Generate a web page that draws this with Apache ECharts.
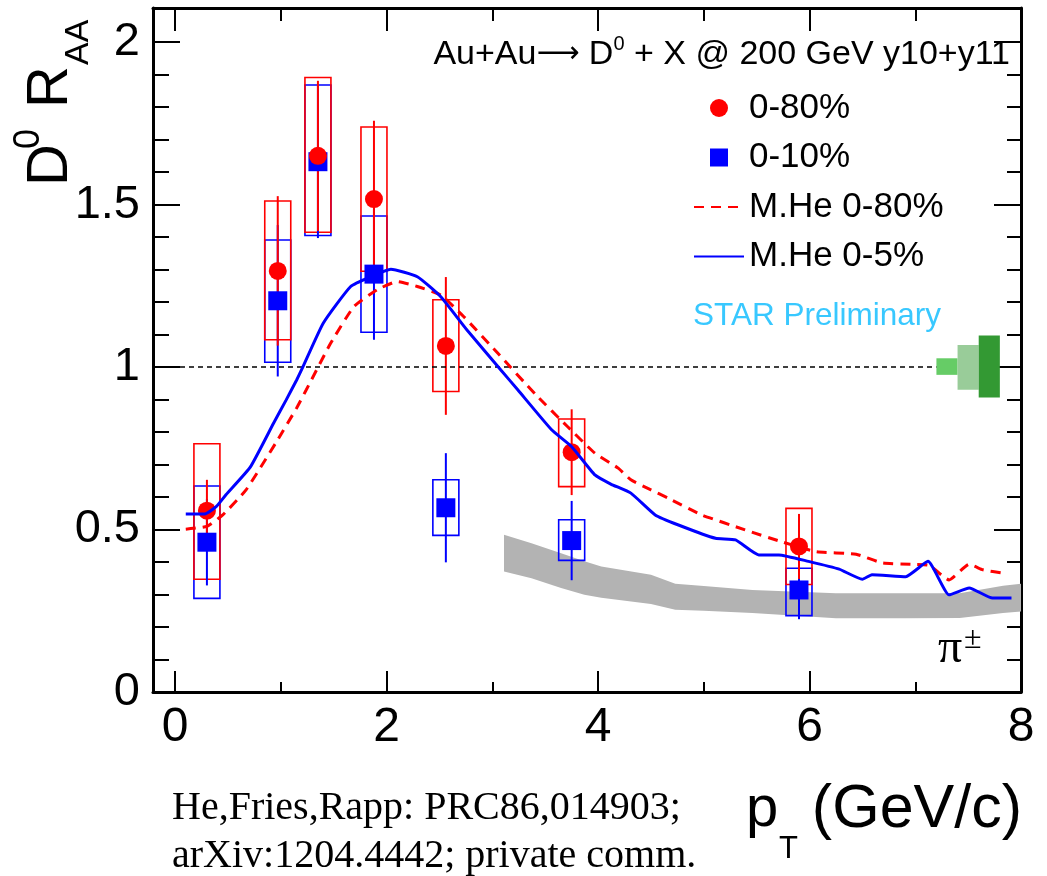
<!DOCTYPE html>
<html lang="en" style="height: 100%">
<head>
    <meta charset="utf-8">
    <script src="https://cdn.jsdelivr.net/npm/echarts@6/dist/echarts.min.js"></script>
</head>
<body style="height: 100%; margin: 0; background: #fff">
<div id="main" style="width: 1047px; height: 876px"></div>
<script type="text/javascript">
    // D0 RAA points, pT in GeV/c
    var pT = [0.30, 0.97, 1.35, 1.88, 2.56, 3.75, 5.90];

    // 0-80% (red circles)
    var raa080 = [0.558, 1.296, 1.650, 1.517, 1.065, 0.738, 0.448];
    var stat080 = [0.095, 0.230, 0.231, 0.241, 0.212, 0.132, 0.100];
    var sysLo080 = [0.347, 1.084, 1.415, 1.295, 0.925, 0.632, 0.331];
    var sysHi080 = [0.764, 1.511, 1.891, 1.739, 1.207, 0.840, 0.565];

    // 0-10% (blue squares)
    var raa010 = [0.461, 1.204, 1.632, 1.286, 0.567, 0.466, 0.314];
    var stat010 = [0.133, 0.233, 0.235, 0.202, 0.168, 0.122, 0.090];
    var sysLo010 = [0.288, 1.015, 1.405, 1.107, 0.482, 0.405, 0.235];
    var sysHi010 = [0.634, 1.391, 1.868, 1.465, 0.653, 0.530, 0.381];

    // M.He model curves
    var heX05 = [0.10, 0.28, 0.39, 0.48, 0.71, 0.93, 1.05, 1.15, 1.21, 1.40, 1.66, 1.85, 2.04, 2.29, 2.51, 2.76, 3.08, 3.24, 3.56, 3.75, 3.97, 4.12, 4.31, 4.54, 4.76, 5.11, 5.30, 5.52, 5.71, 5.99, 6.28, 6.50, 6.59, 6.91, 7.12, 7.32, 7.51, 7.73, 7.91];
    var heY05 = [0.548, 0.548, 0.571, 0.607, 0.692, 0.827, 0.899, 0.961, 1.002, 1.135, 1.248, 1.278, 1.301, 1.278, 1.217, 1.114, 0.991, 0.930, 0.807, 0.755, 0.668, 0.640, 0.612, 0.545, 0.514, 0.473, 0.468, 0.422, 0.422, 0.402, 0.378, 0.347, 0.361, 0.355, 0.402, 0.299, 0.320, 0.289, 0.289];
    var heX080 = [0.10, 0.30, 0.45, 0.67, 0.96, 1.15, 1.24, 1.47, 1.69, 1.91, 2.10, 2.29, 2.51, 2.73, 3.05, 3.41, 3.71, 3.97, 4.19, 4.31, 4.50, 4.66, 4.98, 5.39, 5.71, 6.06, 6.44, 6.69, 6.97, 7.13, 7.32, 7.51, 7.64, 7.83];
    var heY080 = [0.501, 0.510, 0.545, 0.622, 0.771, 0.875, 0.930, 1.073, 1.186, 1.238, 1.263, 1.248, 1.222, 1.155, 1.043, 0.915, 0.817, 0.735, 0.689, 0.653, 0.622, 0.597, 0.545, 0.499, 0.465, 0.432, 0.424, 0.397, 0.393, 0.390, 0.345, 0.393, 0.376, 0.366];

    // pi+- RAA band
    var piX = [3.11, 3.37, 3.65, 3.87, 4.03, 4.50, 4.73, 5.00, 5.46, 6.25, 6.90, 7.42, 7.83, 8.00];
    var piHi = [0.484, 0.458, 0.427, 0.402, 0.386, 0.361, 0.333, 0.326, 0.314, 0.304, 0.304, 0.304, 0.327, 0.333];
    var piLo = [0.371, 0.350, 0.320, 0.299, 0.290, 0.271, 0.253, 0.250, 0.243, 0.227, 0.227, 0.228, 0.243, 0.248];

    // normalisation boxes at unity
    var normX0 = [7.20, 7.40, 7.60];
    var normX1 = [7.40, 7.60, 7.80];
    var normLo = [0.976, 0.930, 0.906];
    var normHi = [1.027, 1.068, 1.097];
    var normColors = ['#66cc66', '#99cc99', '#339933'];

    var unityX = [-0.21, 7.20];

    var xMajor = [0, 2, 4, 6, 8];
    var xMinor = [1, 3, 5, 7];
    var yMajor = [0, 0.5, 1, 1.5, 2];
    var yMinor = [0.1, 0.2, 0.3, 0.4, 0.6, 0.7, 0.8, 0.9, 1.1, 1.2, 1.3, 1.4, 1.6, 1.7, 1.8, 1.9, 2.0];

    var SANS = 'Liberation Sans, Arial, sans-serif';
    var SERIF = 'Liberation Serif, Times New Roman, serif';

    function pairs(xs, ys) {
        return xs.map(function (x, i) { return [x, ys[i]]; });
    }
    function ranges(xs, lo, hi) {
        return xs.map(function (x, i) { return [x, lo[i], hi[i]]; });
    }

    // systematic box
    function boxItem(color) {
        return function (params, api) {
            var top = api.coord([api.value(0), api.value(2)]);
            var bot = api.coord([api.value(0), api.value(1)]);
            return {
                type: 'rect',
                shape: {x: top[0] - 13, y: top[1], width: 26, height: bot[1] - top[1]},
                style: {fill: 'none', stroke: color, lineWidth: 1.6}
            };
        };
    }
    // stat error bar
    function barItem(color) {
        return function (params, api) {
            var top = api.coord([api.value(0), api.value(2)]);
            var bot = api.coord([api.value(0), api.value(1)]);
            return {
                type: 'line',
                shape: {x1: top[0], y1: top[1], x2: bot[0], y2: bot[1]},
                style: {stroke: color, lineWidth: 2}
            };
        };
    }

    function xAxisOf(grid, pos, values, len, withLine, withLabel) {
        return {
            type: 'value', gridIndex: grid, position: pos, min: -0.21, max: 8,
            axisLine: {show: withLine, onZero: false, lineStyle: {color: '#000', width: 3}},
            axisTick: {show: true, inside: true, length: len, customValues: values, lineStyle: {color: '#000', width: 2}},
            axisLabel: {show: withLabel, customValues: values, margin: 12, fontSize: 48, fontFamily: SANS, color: '#000'},
            splitLine: {show: false}
        };
    }
    function yAxisOf(grid, pos, values, len, withLine, withLabel) {
        return {
            type: 'value', gridIndex: grid, position: pos, min: 0, max: 2.105,
            axisLine: {show: withLine, onZero: false, lineStyle: {color: '#000', width: 3}},
            axisTick: {show: true, inside: true, length: len, customValues: values, lineStyle: {color: '#000', width: 2}},
            axisLabel: {show: withLabel, customValues: values, margin: 13, fontSize: 47, fontFamily: SANS, color: '#000'},
            splitLine: {show: false}
        };
    }

    function label(x, y, text, size, family, align, extra) {
        var el = {
            type: 'text', x: x, y: y, z: 100,
            style: {
                text: text, fontSize: size, fontFamily: family, fill: '#000',
                align: align, verticalAlign: 'middle', textAlign: align, textVerticalAlign: 'middle'
            }
        };
        return Object.assign(el, extra || {});
    }

    var chart = echarts.init(document.getElementById('main'));

    var gridBox = {left: 153, right: 26, top: 8, bottom: 184, containLabel: false, outerBoundsMode: 'none'};

    chart.setOption({
        animation: false,
        backgroundColor: '#fff',
        grid: [Object.assign({}, gridBox), Object.assign({}, gridBox)],
        xAxis: [
            xAxisOf(0, 'bottom', xMajor, 21, true, true),
            xAxisOf(0, 'top', xMajor, 23, true, false),
            xAxisOf(1, 'bottom', xMinor, 10, false, false),
            xAxisOf(1, 'top', xMinor, 13, false, false)
        ],
        yAxis: [
            yAxisOf(0, 'left', yMajor, 27, true, true),
            yAxisOf(0, 'right', yMajor, 27, true, false),
            yAxisOf(1, 'left', yMinor, 16, false, false),
            yAxisOf(1, 'right', yMinor, 14, false, false)
        ],
        legend: {
            orient: 'vertical', left: 693, top: 90, padding: 0,
            itemGap: 13.5, itemWidth: 50, itemHeight: 18,
            selectedMode: false, symbolKeepAspect: true,
            textStyle: {fontSize: 35, fontFamily: SANS, color: '#000', lineHeight: 36},
            data: [
                {name: '0-80%', icon: 'circle'},
                {name: '0-10%', icon: 'path://M0,0H10V10H0Z'},
                {name: 'M.He 0-80%', itemStyle: {opacity: 0}},
                {name: 'M.He 0-5%', itemStyle: {opacity: 0}}
            ]
        },
        series: [
            {
                type: 'custom', name: 'pi band', xAxisIndex: 0, yAxisIndex: 0,
                data: ranges(piX, piLo, piHi),
                encode: {x: 0, y: [1, 2]},
                renderItem: function (params, api) {
                    if (params.dataIndex !== 0) return null;
                    var pts = [];
                    piX.forEach(function (x, i) { pts.push(api.coord([x, piHi[i]])); });
                    for (var i = piX.length - 1; i >= 0; i--) pts.push(api.coord([piX[i], piLo[i]]));
                    return {type: 'polygon', shape: {points: pts}, style: {fill: '#b3b3b3'}};
                }
            },
            {
                type: 'line', name: 'unity', data: pairs(unityX, [1, 1]),
                symbol: 'none', lineStyle: {color: '#000', width: 1.5, type: [5, 4]}
            },
            {
                type: 'custom', name: 'norm',
                data: normX0.map(function (x, i) { return [x, normLo[i], normHi[i], normX1[i]]; }),
                encode: {x: [0, 3], y: [1, 2]},
                renderItem: function (params, api) {
                    var a = api.coord([api.value(0), api.value(2)]);
                    var b = api.coord([api.value(3), api.value(1)]);
                    return {
                        type: 'rect',
                        shape: {x: a[0], y: a[1], width: b[0] - a[0], height: b[1] - a[1]},
                        style: {fill: normColors[params.dataIndex]}
                    };
                }
            },
            {
                type: 'custom', name: 'sys010', data: ranges(pT, sysLo010, sysHi010),
                encode: {x: 0, y: [1, 2]}, renderItem: boxItem('#0000ff')
            },
            {
                type: 'custom', name: 'sys080', data: ranges(pT, sysLo080, sysHi080),
                encode: {x: 0, y: [1, 2]}, renderItem: boxItem('#ff0000')
            },
            {
                type: 'line', name: 'M.He 0-80%', data: pairs(heX080, heY080),
                symbol: 'none', showSymbol: false, smooth: 0.15, color: '#ff0000',
                lineStyle: {color: '#ff0000', width: 3, type: [10, 7]}
            },
            {
                type: 'line', name: 'M.He 0-5%', data: pairs(heX05, heY05),
                symbol: 'none', showSymbol: false, smooth: 0.15, color: '#0000ff',
                lineStyle: {color: '#0000ff', width: 3}
            },
            {
                type: 'custom', name: 'stat010',
                data: pT.map(function (x, i) { return [x, raa010[i] - stat010[i], raa010[i] + stat010[i]]; }),
                encode: {x: 0, y: [1, 2]}, renderItem: barItem('#0000ff')
            },
            {
                type: 'scatter', name: '0-10%', data: pairs(pT, raa010),
                symbol: 'rect', symbolSize: 19, itemStyle: {color: '#0000ff', opacity: 1}
            },
            {
                type: 'custom', name: 'stat080',
                data: pT.map(function (x, i) { return [x, raa080[i] - stat080[i], raa080[i] + stat080[i]]; }),
                encode: {x: 0, y: [1, 2]}, renderItem: barItem('#ff0000')
            },
            {
                type: 'scatter', name: '0-80%', data: pairs(pT, raa080),
                symbol: 'circle', symbolSize: 18, itemStyle: {color: '#ff0000', opacity: 1}
            }
        ],
        graphic: [
            {
                type: 'text', x: 1010, y: 54.5, z: 100,
                style: {
                    text: '{a|Au+Au}{r|\u27f6}{a| D}{s|0}{a| + X @ 200 GeV y10+y11}',
                    align: 'right', verticalAlign: 'middle', textAlign: 'right', textVerticalAlign: 'middle',
                    fill: '#000',
                    rich: {
                        a: {fontSize: 34, fontFamily: SANS, lineHeight: 40},
                        r: {fontSize: 30, fontFamily: 'DejaVu Sans', lineHeight: 40},
                        s: {fontSize: 20, fontFamily: SANS, lineHeight: 20, verticalAlign: 'top'}
                    }
                }
            },
            {
                type: 'text', x: 693, y: 316, z: 100,
                style: {
                    text: 'STAR Preliminary', fontSize: 31.5, fontFamily: SANS, fill: '#38c8ff',
                    align: 'left', verticalAlign: 'middle', textAlign: 'left', textVerticalAlign: 'middle'
                }
            },
            label(938, 649, '\u03c0', 48, SERIF, 'left'),
            label(964, 640, '\u00b1', 32, SERIF, 'left'),
            // y title, rotated
            {
                type: 'group', x: 72, y: 182, rotation: Math.PI / 2, z: 100,
                children: [
                    label(-4, -20.8, 'D', 58, SANS, 'left'),
                    label(33, -43, '0', 36, SANS, 'left'),
                    label(74, -20.8, 'R', 58, SANS, 'left'),
                    label(117, 7, 'AA', 34, SANS, 'left')
                ]
            },
            // x title
            label(746, 810, 'p', 58, SANS, 'left'),
            label(779, 849, 'T', 31, SANS, 'left'),
            label(1022, 810, '(GeV/c)', 61, SANS, 'right'),
            // model reference note
            label(172, 808, 'He,Fries,Rapp: PRC86,014903;', 40, SERIF, 'left'),
            label(172, 856, 'arXiv:1204.4442; private comm.', 40, SERIF, 'left')
        ]
    });
</script>
</body>
</html>
